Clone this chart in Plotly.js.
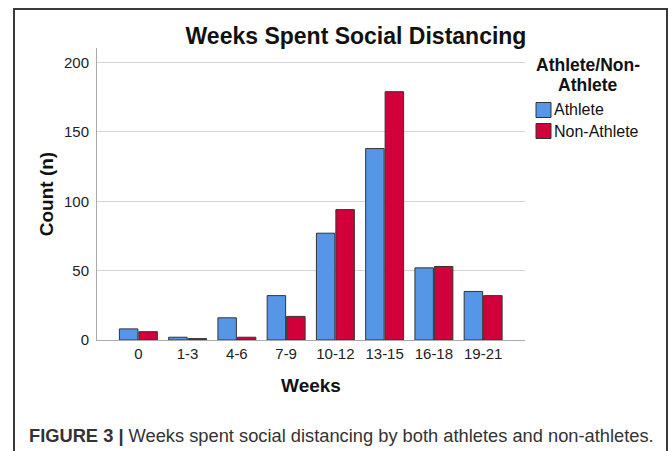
<!DOCTYPE html>
<html>
<head>
<meta charset="utf-8">
<script src="https://cdn.plot.ly/plotly-3.0.1.min.js"></script>
<style>html,body{margin:0;padding:0;background:#fff;}#chart{width:669px;height:451px;}</style>
</head>
<body>
<div id="chart"></div>
<script>
var categories = ["0", "1-3", "4-6", "7-9", "10-12", "13-15", "16-18", "19-21"];
var athleteCounts = [8, 2, 16, 32, 77, 138, 52, 35];
var nonAthleteCounts = [6, 1, 2, 17, 94, 179, 53, 32];
var seriesNames = ["Athlete", "Non-Athlete"];
var seriesColors = ["#5596E6", "#D2003A"];
var yTicks = [0, 50, 100, 150, 200];

var F = "Liberation Sans, Arial, sans-serif";
var L = 97, R = 525, T = 48, B = 340;
function px(x){ return (x - L) / (R - L); }
function py(y){ return (B - y) / (B - T); }

var traces = [athleteCounts, nonAthleteCounts].map(function(vals, i){
  return {
    type: "bar", x: categories, y: vals, name: seriesNames[i],
    marker: {color: seriesColors[i], line: {color: "#333", width: 1}},
    showlegend: false, hoverinfo: "x+y+name"
  };
});

var shapes = [
  {type: "path", xref: "paper", yref: "paper",
   path: "M" + px(14) + "," + py(470) + " L" + px(14) + "," + py(9) + " L" + px(667) + "," + py(9) + " L" + px(667) + "," + py(470),
   line: {color: "#3a3a3a", width: 2}}
];
var annotations = [
  {xref: "paper", yref: "paper", x: px(588), y: py(65), text: "<b>Athlete/Non-</b>",
   showarrow: false, xanchor: "center", yanchor: "middle", font: {family: F, size: 17.5, color: "#111"}},
  {xref: "paper", yref: "paper", x: px(588), y: py(85), text: "<b>Athlete</b>",
   showarrow: false, xanchor: "center", yanchor: "middle", font: {family: F, size: 17.5, color: "#111"}},
  {xref: "paper", yref: "paper", x: px(27), y: py(435), text: "<b>FIGURE 3 |</b> Weeks spent social distancing by both athletes and non-athletes.",
   showarrow: false, xanchor: "left", yanchor: "middle", font: {family: F, size: 18.3, color: "#333"}}
];
seriesNames.forEach(function(n, i){
  var yc = 110 + i * 21;
  shapes.push({type: "rect", xref: "paper", yref: "paper",
    x0: px(536), x1: px(551), y0: py(yc - 7.5), y1: py(yc + 7.5),
    fillcolor: seriesColors[i], line: {color: "#333", width: 1}});
  annotations.push({xref: "paper", yref: "paper", x: px(552), y: py(yc), text: n,
    showarrow: false, xanchor: "left", yanchor: "middle", font: {family: F, size: 16, color: "#111"}});
});

var layout = {
  width: 669, height: 451,
  margin: {l: L, r: 669 - R, t: T, b: 451 - B, pad: 0},
  paper_bgcolor: "#fff", plot_bgcolor: "#fff",
  font: {family: F, color: "#222"},
  title: {text: "<b>Weeks Spent Social Distancing</b>", x: 356 / 669, xanchor: "center",
          y: 1 - 36 / 451, yanchor: "middle", font: {family: F, size: 23, color: "#111"}},
  barmode: "group", bargap: 0.21, bargroupgap: 0.05,
  xaxis: {
    type: "category", range: [-0.84, 7.85], showgrid: false, showline: true, linecolor: "#aaa", linewidth: 1,
    ticks: "", tickfont: {size: 15, color: "#222"},
    title: {text: "<b>Weeks</b>", font: {size: 19, color: "#111"}, standoff: 17}
  },
  yaxis: {
    range: [0, 210.5], tickvals: yTicks, showgrid: true, gridcolor: "#d4d4d4", gridwidth: 1,
    showline: true, linecolor: "#aaa", linewidth: 1, zeroline: false, ticks: "",
    tickfont: {size: 15, color: "#222"}, ticklabelstandoff: 4,
    title: {text: "<b>Count (n)</b>", font: {size: 19, color: "#111"}, standoff: 5}
  },
  shapes: shapes, annotations: annotations, showlegend: false
};

Plotly.newPlot("chart", traces, layout, {displayModeBar: false, staticPlot: true});
</script>
</body>
</html>
